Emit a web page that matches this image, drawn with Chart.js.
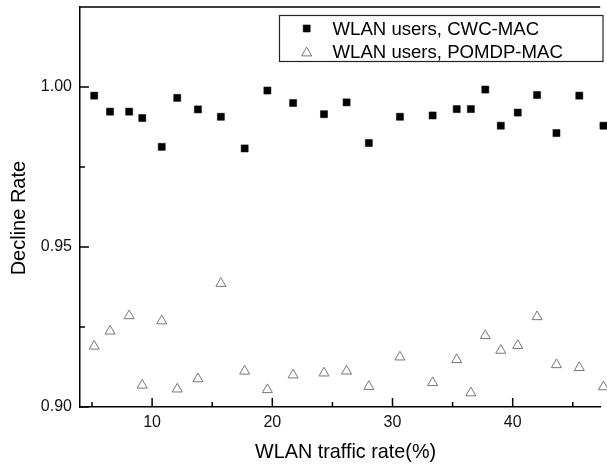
<!DOCTYPE html>
<html>
<head>
<meta charset="utf-8">
<script src="https://cdn.jsdelivr.net/npm/chart.js@4.4.0/dist/chart.umd.min.js"></script>
<style>
  html, body { margin: 0; padding: 0; background: #fff; }
  #wrap { width: 607px; height: 466px; }
</style>
</head>
<body>
<div id="wrap"><canvas id="chart" width="607" height="466"></canvas></div>
<script>
// traffic rate (%) for each sample
const trafficRate = [5.18, 6.50, 8.09, 9.18, 10.80, 12.09, 13.81, 15.72, 17.70, 19.59, 21.73, 24.30, 26.18,
  28.03, 30.62, 33.34, 35.34, 36.52, 37.72, 39.01, 40.42, 42.03, 43.64, 45.54, 47.55];
const cwcMac = [0.9973, 0.9923, 0.9923, 0.9903, 0.9813, 0.9966, 0.9930, 0.9907, 0.9808, 0.9989, 0.9950, 0.9915, 0.9952,
  0.9825, 0.9907, 0.9911, 0.9931, 0.9931, 0.9992, 0.9879, 0.9920, 0.9975, 0.9856, 0.9973, 0.9879];
const pomdpMac = [0.9190, 0.9237, 0.9285, 0.9068, 0.9269, 0.9056, 0.9088, 0.9386, 0.9112, 0.9054, 0.9100, 0.9106, 0.9112,
  0.9064, 0.9156, 0.9076, 0.9148, 0.9044, 0.9223, 0.9177, 0.9192, 0.9282, 0.9132, 0.9123, 0.9063];

const xTicks = [10, 20, 30, 40];
const xMinorTicks = [5, 15, 25, 35, 45];
const yTicks = [0.90, 0.95, 1.00];
const yMinorTicks = [0.925, 0.975];

const FONT = "'Liberation Sans', Arial, sans-serif";

function pts(ys) {
  return trafficRate.map((x, i) => ({ x, y: ys[i] }));
}

// inward ticks, top frame line and the boxed legend
const frame = {
  id: "frame",
  afterDraw(chart) {
    const { ctx, chartArea: a, scales: { x, y } } = chart;
    ctx.save();
    ctx.strokeStyle = "#000";
    ctx.lineWidth = 1.5;
    ctx.beginPath();
    ctx.moveTo(a.left, a.top);
    ctx.lineTo(a.right, a.top);
    xTicks.forEach((v) => { const p = x.getPixelForValue(v); ctx.moveTo(p, a.bottom); ctx.lineTo(p, a.bottom - 9); });
    xMinorTicks.forEach((v) => { const p = x.getPixelForValue(v); ctx.moveTo(p, a.bottom); ctx.lineTo(p, a.bottom - 5); });
    yTicks.forEach((v) => { const p = y.getPixelForValue(v); ctx.moveTo(a.left, p); ctx.lineTo(a.left + 9, p); });
    yMinorTicks.forEach((v) => { const p = y.getPixelForValue(v); ctx.moveTo(a.left, p); ctx.lineTo(a.left + 5, p); });
    ctx.stroke();

    ctx.lineWidth = 1.2;
    ctx.strokeStyle = "#222";
    ctx.strokeRect(279.5, 15.5, 323.5, 46);
    ctx.font = "18.6px " + FONT;
    ctx.textBaseline = "alphabetic";
    chart.data.datasets.forEach((ds, i) => {
      const cy = 28.5 + i * 23;
      ctx.fillStyle = ds.backgroundColor;
      ctx.strokeStyle = ds.borderColor;
      ctx.lineWidth = ds.borderWidth;
      Chart.helpers.drawPoint(ctx, { pointStyle: ds.pointStyle, radius: ds.pointRadius, rotation: 0, borderWidth: ds.borderWidth }, 306.7, cy + (i ? 1.5 : 0));
      ctx.fillStyle = "#000";
      ctx.fillText(ds.label, 332.5, cy + 6.5);
    });
    ctx.restore();
  },
};

new Chart(document.getElementById("chart"), {
  type: "scatter",
  data: {
    datasets: [
      {
        label: "WLAN users, CWC-MAC",
        data: pts(cwcMac),
        pointStyle: "rect",
        pointRadius: 5,
        backgroundColor: "#000",
        borderColor: "#000",
        borderWidth: 0.5,
        clip: false,
      },
      {
        label: "WLAN users, POMDP-MAC",
        data: pts(pomdpMac),
        pointStyle: "triangle",
        pointRadius: 5.8,
        backgroundColor: "#fff",
        borderColor: "#777",
        borderWidth: 1,
        clip: false,
      },
    ],
  },
  options: {
    responsive: false,
    animation: false,
    layout: { padding: { top: 7, right: 0, left: 0, bottom: 0 } },
    plugins: { legend: { display: false }, tooltip: { enabled: false } },
    scales: {
      x: {
        type: "linear",
        min: 4,
        max: 47.28,
        afterBuildTicks: (s) => { s.ticks = xTicks.map((v) => ({ value: v })); },
        afterFit: (s) => { s.height = 59; s.paddingLeft = 0; s.paddingRight = 0; },
        grid: { display: false, drawTicks: false },
        border: { display: true, color: "#000", width: 1.5 },
        ticks: { color: "#111", padding: 6, font: { family: FONT, size: 16 } },
        title: {
          display: true,
          // leading spaces nudge the centred title a little to the right, as in the original
          text: "  WLAN traffic rate(%)",
          color: "#000",
          font: { family: FONT, size: 19.8, lineHeight: 1 },
          padding: { top: 0, bottom: 4 },
        },
      },
      y: {
        min: 0.90,
        max: 1.025,
        afterBuildTicks: (s) => { s.ticks = yTicks.map((v) => ({ value: v })); },
        afterFit: (s) => { s.width = 80; s.paddingTop = 0; s.paddingBottom = 0; },
        grid: { display: false, drawTicks: false },
        border: { display: true, color: "#000", width: 1.5 },
        ticks: { color: "#111", padding: 8, font: { family: FONT, size: 16 }, callback: (v) => v.toFixed(2) },
        title: {
          display: true,
          // trailing spaces push the rotated title down a bit
          text: "Decline Rate    ",
          color: "#000",
          font: { family: FONT, size: 20, lineHeight: 1 },
          padding: { top: 9, bottom: 0 },
        },
      },
    },
  },
  plugins: [frame],
});
</script>
</body>
</html>
